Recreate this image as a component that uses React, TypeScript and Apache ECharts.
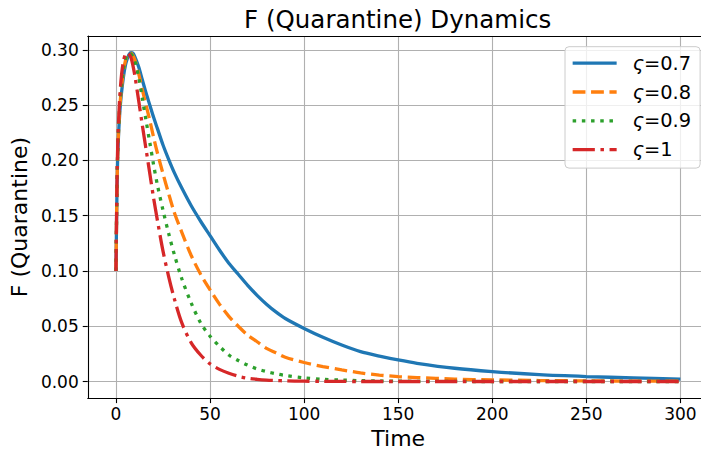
import React, { useEffect, useRef } from "react";
import * as echarts from "echarts";

const times = [0, 0.5, 1, 2, 3, 4, 5, 6, 7, 8, 9, 10, 12, 14, 16, 18, 20, 22, 25, 28, 31, 35, 40, 45, 50, 55, 60, 65, 70, 75, 80, 85, 90, 100, 110, 120, 130, 140, 150, 160, 180, 200, 225, 250, 275, 300];

const f07 = [0.1, 0.168, 0.208, 0.243, 0.262, 0.276, 0.286, 0.292, 0.296, 0.2975, 0.297, 0.294, 0.285, 0.273, 0.261, 0.25, 0.239, 0.229, 0.214, 0.201, 0.189, 0.175, 0.159, 0.145, 0.132, 0.119, 0.107, 0.097, 0.087, 0.078, 0.07, 0.063, 0.057, 0.048, 0.04, 0.033, 0.027, 0.023, 0.0195, 0.0165, 0.012, 0.009, 0.0062, 0.0045, 0.0033, 0.0022];
const f08 = [0.1, 0.17, 0.21, 0.247, 0.267, 0.281, 0.29, 0.295, 0.297, 0.297, 0.295, 0.291, 0.279, 0.264, 0.25, 0.236, 0.221, 0.207, 0.188, 0.17, 0.153, 0.135, 0.114, 0.097, 0.083, 0.07, 0.059, 0.05, 0.042, 0.036, 0.03, 0.026, 0.022, 0.0172, 0.0135, 0.0105, 0.0078, 0.0058, 0.0045, 0.0036, 0.0022, 0.0015, 0.0009, 0.0006, 0.0004, 0.0003];
const f09 = [0.1, 0.172, 0.212, 0.25, 0.27, 0.283, 0.291, 0.296, 0.297, 0.296, 0.294, 0.29, 0.276, 0.256, 0.236, 0.216, 0.196, 0.178, 0.155, 0.134, 0.115, 0.093, 0.071, 0.053, 0.041, 0.032, 0.024, 0.019, 0.0148, 0.0114, 0.009, 0.007, 0.0055, 0.0033, 0.002, 0.0013, 0.0008, 0.0005, 0.0003, 0.0002, 0.0001, 0, 0, 0, 0, 0];
const f10 = [0.1, 0.175, 0.218, 0.257, 0.278, 0.29, 0.296, 0.2975, 0.296, 0.293, 0.286, 0.277, 0.255, 0.232, 0.21, 0.188, 0.166, 0.146, 0.118, 0.095, 0.075, 0.053, 0.035, 0.024, 0.016, 0.011, 0.0075, 0.0048, 0.003, 0.002, 0.0013, 0.0009, 0.0006, 0.0003, 0.0002, 0.0001, 0, 0, 0, 0, 0, 0, 0, 0, 0, 0];

const seriesNames = ["ς=0.7", "ς=0.8", "ς=0.9", "ς=1"];
const seriesValues = [f07, f08, f09, f10];
const colors = ["#1f77b4", "#ff7f0e", "#2ca02c", "#d62728"];
const dashes: (string | number[])[] = ["solid", [12.8, 5.6], [3.5, 5.7], [22.2, 5.6, 3.5, 5.6]];

const xTicks = [0, 50, 100, 150, 200, 250, 300];
const yTicks = [0, 0.05, 0.1, 0.15, 0.2, 0.25, 0.3];

const FONT = "DejaVu Sans";

export default function App() {
  const ref = useRef<HTMLDivElement>(null);
  useEffect(() => {
    if (!ref.current) return;
    const chart = echarts.init(ref.current, undefined, { renderer: "svg" });
    const gridLeft = 86.7;
    const gridTop = 36;
    const gridWidth = 621.9;
    const gridHeight = 364.7;
    const series: any[] = seriesNames.map((name, i) => ({
      name,
      type: "line",
      data: times.map((t, j) => [t, seriesValues[i][j]]),
      showSymbol: false,
      symbol: "none",
      smooth: 0.3,
      lineStyle: { color: colors[i], width: 3.3, type: dashes[i], cap: "butt" },
      itemStyle: { color: colors[i] },
      z: 3 + i,
    }));
    chart.setOption({
      animation: false,
      backgroundColor: "#ffffff",
      graphic: [
        {
          type: "text",
          x: gridLeft + gridWidth / 2,
          y: 19,
          style: {
            text: "F (Quarantine) Dynamics",
            fontFamily: FONT,
            fontSize: 24.5,
            fill: "#000",
            textAlign: "center",
            textVerticalAlign: "middle",
          },
        },
      ],
      grid: { left: gridLeft, top: gridTop, width: gridWidth, height: gridHeight, containLabel: false },
      legend: {
        orient: "vertical",
        left: 565,
        top: 46.7,
        padding: [7, 9, 9, 6],
        itemWidth: 44,
        itemHeight: 20,
        itemGap: 9.8,
        backgroundColor: "rgba(255,255,255,0.8)",
        borderColor: "#cccccc",
        borderWidth: 1,
        borderRadius: 4,
        data: seriesNames,
        lineStyle: { width: 3.3 },
        itemStyle: { opacity: 0, borderWidth: 0 },
        formatter: (name: string) => "{i|ς}" + name.slice(1),
        textStyle: {
          fontFamily: FONT,
          fontSize: 19.4,
          color: "#000",
          padding: [0, 0, 0, 11],
          rich: { i: { fontFamily: FONT, fontSize: 19.4, fontStyle: "italic", color: "#000" } },
        },
      },
      xAxis: [
        {
          type: "value",
          min: -15,
          max: 315,
          name: "Time",
          nameLocation: "middle",
          nameGap: 26,
          nameTextStyle: { fontFamily: FONT, fontSize: 22, color: "#000" },
          axisLine: { show: true, onZero: false, lineStyle: { color: "#000", width: 1.1 } },
          axisTick: { show: true, length: 5, lineStyle: { color: "#000", width: 1.1 }, customValues: xTicks },
          axisLabel: { fontFamily: FONT, fontSize: 17, color: "#000", margin: 7, customValues: xTicks, formatter: (v: number) => String(v) },
          splitLine: { show: true, lineStyle: { color: "#b0b0b0", width: 1.1 } },
        },
        {
          type: "value",
          position: "top",
          min: -15,
          max: 315,
          axisLine: { show: true, onZero: false, lineStyle: { color: "#000", width: 1.1 } },
          axisTick: { show: false },
          axisLabel: { show: false },
          splitLine: { show: false },
        },
      ],
      yAxis: [
        {
          type: "value",
          min: -0.015,
          max: 0.3126,
          name: "F (Quarantine)",
          nameLocation: "middle",
          nameGap: 54,
          nameTextStyle: { fontFamily: FONT, fontSize: 22, color: "#000" },
          axisLine: { show: true, onZero: false, lineStyle: { color: "#000", width: 1.1 } },
          axisTick: { show: true, length: 5, lineStyle: { color: "#000", width: 1.1 }, customValues: yTicks },
          axisLabel: { fontFamily: FONT, fontSize: 17, color: "#000", margin: 9, customValues: yTicks, formatter: (v: number) => v.toFixed(2) },
          splitLine: { show: true, lineStyle: { color: "#b0b0b0", width: 1.1 } },
        },
        {
          type: "value",
          position: "right",
          min: -0.015,
          max: 0.3126,
          axisLine: { show: true, onZero: false, lineStyle: { color: "#000", width: 1.1 } },
          axisTick: { show: false },
          axisLabel: { show: false },
          splitLine: { show: false },
        },
      ],
      series,
    });
    return () => chart.dispose();
  }, []);
  return (
    <div style={{ position: "fixed", left: 0, top: 0, width: 701, height: 454, overflow: "hidden", background: "#fff" }}>
      <div ref={ref} style={{ width: 730, height: 454 }} />
    </div>
  );
}
